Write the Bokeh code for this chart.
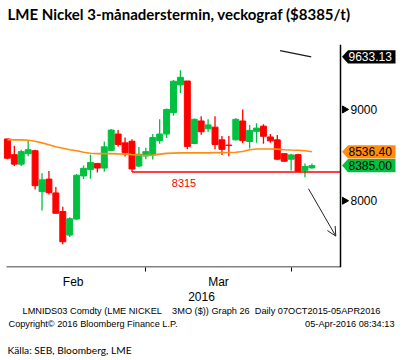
import math
from bokeh.plotting import figure
from bokeh.models import ColumnDataSource, FixedTicker, Arrow, OpenHead, Range1d
from bokeh.layouts import column
from bokeh.core.properties import value
from bokeh.embed import file_html
from bokeh.resources import INLINE

# ---------------- data ----------------
opens  = [8677, 8505, 8401, 8516, 8548, 8100, 8237, 8086, 7882, 7624,
          7799, 8272, 8341, 8409, 8358, 8552, 8731, 8634, 8652, 8380,
          8491, 8502, 8659, 8731, 8965, 9269, 9312, 8627, 8874, 8788,
          8806, 8667, 8610, 8667, 8874, 8649, 8760, 8817, 8699, 8667,
          8516, 8455, 8505, 8333, 8360]
highs  = [8680, 8602, 8559, 8659, 8559, 8301, 8326, 8151, 7935, 7820,
          8294, 8387, 8505, 8409, 8648, 8785, 8774, 8692, 8674, 8590,
          8581, 8731, 8892, 9011, 9323, 9430, 9312, 8900, 8925, 8892,
          8925, 8710, 8710, 8903, 9000, 8831, 8849, 8839, 8731, 8720,
          8516, 8516, 8516, 8409, 8409]
lows   = [8455, 8380, 8380, 8487, 8122, 7892, 8068, 7860, 7523, 7602,
          7795, 8237, 8240, 8309, 8319, 8545, 8591, 8484, 8326, 8370,
          8455, 8452, 8624, 8688, 8932, 9180, 8563, 8620, 8724, 8753,
          8563, 8502, 8487, 8660, 8631, 8573, 8634, 8624, 8634, 8444,
          8430, 8330, 8323, 8258, 8350]
closes = [8466, 8401, 8538, 8559, 8165, 8229, 8089, 7863, 7551, 7803,
          8280, 8355, 8419, 8358, 8591, 8774, 8616, 8527, 8348, 8509,
          8538, 8692, 8731, 9000, 9309, 9352, 8595, 8892, 8756, 8831,
          8616, 8563, 8605, 8892, 8659, 8771, 8796, 8706, 8656, 8455,
          8433, 8502, 8323, 8376, 8385]
ma_values = [8670, 8667, 8667, 8663, 8651, 8634, 8613, 8591, 8575, 8559,
             8548, 8532, 8521, 8516, 8516, 8516, 8513, 8511, 8505, 8500,
             8495, 8500, 8511, 8519, 8522, 8524, 8524, 8524, 8524, 8524,
             8527, 8527, 8529, 8532, 8540, 8559, 8567, 8567, 8567, 8565,
             8559, 8556, 8554, 8548, 8536.4]

month_labels = ["Feb", "Mar"]
month_label_pos = [9.5, 30.5]
month_end_idx = [20, 41]
year_label = "2016"
ytick_values = [8000, 9000]

support_level = 8315
support_start = 18
trend_x = [39.4, 43.9]
trend_y = [9645, 9577]
arrow_x = [43.5, 47.45]
arrow_y = [8132, 7613]
tag_texts = ["9633.13", "8536.40", "8385.00"]
tag_values = [trend_y[-1], 8536.40, 8385.00]

NB = "\u00a0"
title_text = "LME Nickel 3-månaderstermin, veckograf ($8385/t)"
footer1 = ("LMNIDS03 Comdty (LME NICKEL" + NB * 4 + "3MO ($)) Graph 26" + NB * 2
           + "Daily 07OCT2015-05APR2016")
footer2a = "Copyright\u00a9 2016 Bloomberg Finance L.P."
footer2b = "05-Apr-2016 08:34:13"
source_text = "Källa: SEB, Bloomberg, LME"

# ---------------- style / layout ----------------
GREEN = "#00C040"
RED = "#FF0000"
ORANGE = "#FF8C0F"
SANS = "Liberation Sans"
HEAD = "Lato"

W = 402
H1 = 303          # chart figure height (frame 0..272 + axis panel)
H2 = 360 - H1     # footer figure height
FRAME_B = 272

SX = 6.92                     # px per candle
SY = 0.093                    # px per $
X0 = -1.0
X1 = X0 + W / SX
Y1 = 9000 + 111 / SY
Y0 = Y1 - FRAME_B / SY

def dx(px):
    return X0 + px / SX

def dy(py):
    return Y1 - py / SY

XA = dx(340)   # right axis location

idx = list(range(len(opens)))
colors = [GREEN if c >= o else RED for o, c in zip(opens, closes)]
src = ColumnDataSource(dict(
    x=idx, o=opens, h=highs, l=lows, c=closes,
    top=[max(o, c) for o, c in zip(opens, closes)],
    bot=[min(o, c) for o, c in zip(opens, closes)],
    col=colors, ma=ma_values))

p = figure(width=W, height=H1, x_range=Range1d(X0, X1), y_range=Range1d(Y0, Y1),
           output_backend="svg", toolbar_location=None, y_axis_location=None,
           min_border_left=0, min_border_right=0, min_border_top=0,
           min_border_bottom=H1 - FRAME_B,
           background_fill_color="white", border_fill_color="white",
           outline_line_color=None)
p.grid.visible = False

# candles
p.segment(x0="x", y0="l", x1="x", y1="h", source=src, line_color="col", line_width=1.3)
p.vbar(x="x", top="top", bottom="bot", width=0.86, source=src,
       fill_color="col", line_color="col", line_width=1)

# moving average
p.line(x="x", y="ma", source=src, line_color=ORANGE, line_width=1.6)

# support line
p.segment(x0=[support_start], y0=[support_level], x1=[XA], y1=[support_level],
          line_color=RED, line_width=1.3)
p.segment(x0=[support_start], y0=[lows[support_start]], x1=[support_start],
          y1=[support_level], line_color=RED, line_width=1.3)
p.text(x=[dx(183.5)], y=[support_level], text=[str(support_level)], y_offset=11,
       text_align="center", text_baseline="middle", text_font=value(SANS),
       text_font_size="11px", text_color=RED)

# trend line at the top
p.line(trend_x, trend_y, line_color="#1a1a1a", line_width=1.3)

# arrow
p.add_layout(Arrow(end=OpenHead(size=9, line_width=1, line_color="#222222"),
                   x_start=arrow_x[0], y_start=arrow_y[0],
                   x_end=arrow_x[1], y_end=arrow_y[1],
                   line_color="#222222", line_width=1))

# bottom axis (Bokeh axis: month labels + month-end ticks)
xa = p.xaxis[0]
xa.ticker = FixedTicker(ticks=month_label_pos, minor_ticks=month_end_idx)
xa.major_label_overrides = {pos: lab for pos, lab in zip(month_label_pos, month_labels)}
xa.major_tick_line_color = None
xa.major_tick_in = 0
xa.major_tick_out = 0
xa.minor_tick_in = 0
xa.minor_tick_out = 4
xa.minor_tick_line_color = "black"
xa.axis_line_color = None
xa.major_label_text_font = SANS
xa.major_label_text_font_size = "12px"
xa.major_label_text_color = "black"
xa.major_label_standoff = 3
xa.axis_label = year_label
xa.axis_label_text_font = SANS
xa.axis_label_text_font_style = "normal"
xa.axis_label_text_font_size = "12px"
xa.axis_label_text_color = "black"
xa.axis_label_standoff = 0
# visible part of the bottom axis line
p.segment(x0=[dx(6)], y0=[dy(271.5)], x1=[XA], y1=[dy(271.5)],
          line_color="black", line_width=1)

# right price axis
p.segment(x0=[XA], y0=[dy(272)], x1=[XA], y1=[dy(45)], line_color="black", line_width=1.5)
p.scatter(x=[dx(344)] * len(ytick_values), y=ytick_values, marker="triangle",
          angle=-math.pi / 2, size=7, fill_color="black", line_color="black")
p.text(x=[XA] * len(ytick_values), y=ytick_values, text=[str(v) for v in ytick_values],
       x_offset=10, text_align="left", text_baseline="middle",
       text_font=value(SANS), text_font_size="12px", text_color="black")

# value tags on the right
tag_fill = ["black", ORANGE, GREEN]
tag_text_col = ["white", "black", "black"]
half = 6.75 / SY
txs, tys = [], []
for v in tag_values:
    txs.append([dx(341.5), dx(347.5), dx(395), dx(395), dx(347.5)])
    tys.append([v, v + half, v + half, v - half, v - half])
p.patches(xs=txs, ys=tys, fill_color=tag_fill, line_color=None)
p.text(x=[dx(348)] * len(tag_values), y=tag_values, text=tag_texts,
       text_align="left", text_baseline="middle", text_font=value(SANS),
       text_font_size="12px", text_color=tag_text_col)

# title
p.text(x=[dx(7)], y=[dy(14)], text=[title_text], text_align="left",
       text_baseline="middle", text_font=value(HEAD), text_font_size="15px",
       text_font_style="bold", text_color="black")

# ---------------- footer figure ----------------
p2 = figure(width=W, height=H2, x_range=Range1d(0, W), y_range=Range1d(360, H1),
            output_backend="svg", toolbar_location=None,
            x_axis_location=None, y_axis_location=None,
            min_border=0, background_fill_color="white", border_fill_color="white",
            outline_line_color=None)
p2.grid.visible = False
p2.text(x=[201], y=[310], text=[footer1], text_align="center", text_baseline="middle",
        text_font=value(SANS), text_font_size="9.2px", text_color="black")
p2.text(x=[8], y=[323], text=[footer2a], text_align="left", text_baseline="middle",
        text_font=value(SANS), text_font_size="9.2px", text_color="black")
p2.text(x=[394], y=[323], text=[footer2b], text_align="right", text_baseline="middle",
        text_font=value(SANS), text_font_size="9.2px", text_color="black")
p2.text(x=[7], y=[349], text=[source_text], text_align="left", text_baseline="middle",
        text_font=value(HEAD), text_font_size="10.2px", text_color="black")

layout = column(p, p2, spacing=0)
open("out.html", "w").write(file_html(layout, INLINE))
